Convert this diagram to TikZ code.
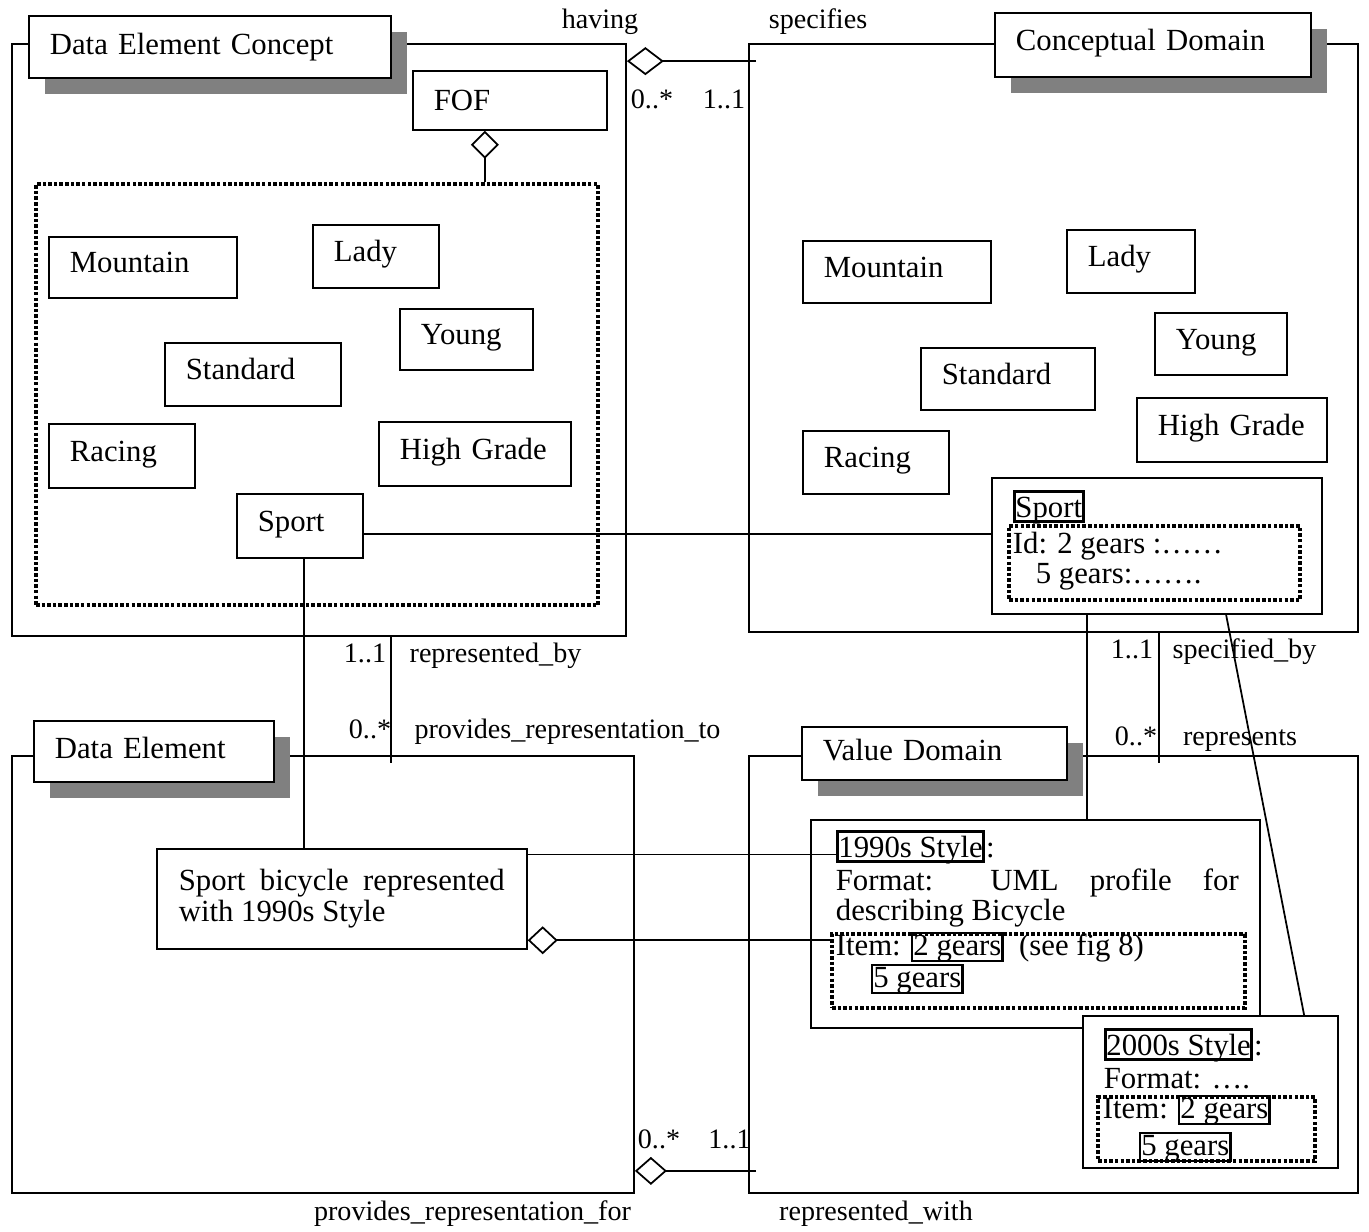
\documentclass[tikz,border=0pt]{standalone}
\usepackage{fontspec}
\setmainfont{Liberation Serif}
\usetikzlibrary{arrows.meta, shadows, fit}

\hyphenpenalty=10000
\exhyphenpenalty=10000
\newcommand\boxfont{\fontsize{17.5}{17.6}\selectfont}
\newcommand\labfont{\fontsize{16}{17}\selectfont}
\newcommand\gb[1]{{\setlength\fboxsep{0pt}\setlength\fboxrule{1.4pt}\fbox{\rule[-0.15em]{0pt}{0.83em}\smash{#1}}}}

\begin{document}
\begin{tikzpicture}[x=0.02cm, y=-0.02cm, line width=1pt, font=\boxfont,
  pkg/.style={draw, inner sep=0pt},
  frame/.style={draw, fill=white, inner sep=0pt},
  grp/.style={draw, line width=2pt, dash pattern=on 2pt off 1.2pt, inner sep=0pt},
  box/.style={draw, fill=white, anchor=north west, align=left, inner xsep=0.42cm, inner ysep=0pt},
  cls/.style={box, text height=12.2pt, text depth=6pt},
  tab/.style={cls, text depth=4pt, drop shadow={shadow xshift=0.32cm, shadow yshift=-0.32cm, fill=gray, opacity=1}},
  tag/.style={draw, line width=1.6pt, inner sep=0.6pt, text height=14pt, text depth=2.1pt, anchor=base west},
  txt/.style={inner sep=0pt, anchor=base west},
  lab/.style={font=\labfont, inner sep=0pt, anchor=base},
  aggr/.style={-{Diamond[open, length=#1, width=0.56cm]}}, aggr/.default=0.6cm]
  \useasboundingbox (0,0) rectangle (1369,1231);

  % パッケージ枠
  \node[pkg, fit={(12,44) (626,636)}] (decPkg) {};
  \node[pkg, fit={(749,44) (1358,632)}] (cdPkg) {};
  \node[pkg, fit={(12,756) (634,1193)}] (dePkg) {};
  \node[pkg, fit={(749,756) (1358,1193)}] (vdPkg) {};

  % タブ
  \node[tab, text width=6.4cm, minimum height=1.24cm] (decTab) at (28,15) {Data Element Concept};
  \node[tab, text width=5.48cm, minimum height=1.28cm, text depth=6pt] (cdTab) at (994,12) {Conceptual Domain};
  \node[tab, text width=3.96cm, minimum height=1.22cm] (deTab) at (33,720) {Data Element};
  \node[tab, text width=4.46cm, minimum height=1.06cm] (vdTab) at (801,726) {Value Domain};

  % Data Element Concept の中身
  \node[cls, text width=3.04cm, minimum height=1.18cm, text depth=1pt] (fof) at (412,70) {FOF};
  \node[grp, fit={(36,184) (598,605)}] (decSet) {};
  \node[cls, text width=2.92cm, minimum height=1.22cm] (mtnL) at (48,236) {Mountain};
  \node[cls, text width=1.68cm, minimum height=1.26cm] (ladyL) at (312,224) {Lady};
  \node[cls, text width=1.82cm, minimum height=1.22cm] (youngL) at (399,308) {Young};
  \node[cls, text width=2.68cm, minimum height=1.26cm] (stdL) at (164,342) {Standard};
  \node[cls, text width=2.08cm, minimum height=1.28cm] (raceL) at (48,423) {Racing};
  \node[cls, text width=3.0cm, minimum height=1.28cm] (highL) at (378,421) {High Grade};
  \node[cls, text width=1.68cm, minimum height=1.28cm] (sportL) at (236,493) {Sport};

  % Conceptual Domain の中身
  \node[cls, text width=2.92cm, minimum height=1.24cm] (mtnR) at (802,240) {Mountain};
  \node[cls, text width=1.72cm, minimum height=1.26cm] (ladyR) at (1066,229) {Lady};
  \node[cls, text width=1.8cm, minimum height=1.24cm] (youngR) at (1154,312) {Young};
  \node[cls, text width=2.64cm, minimum height=1.24cm] (stdR) at (920,347) {Standard};
  \node[cls, text width=2.08cm, minimum height=1.26cm] (raceR) at (802,430) {Racing};
  \node[cls, text width=2.96cm, minimum height=1.28cm] (highR) at (1136,397) {High Grade};
  \node[frame, fit={(992,478) (1322,614)}] (sportR) {};
  \node[tag] (sportRtag) at (1013,517) {Sport};
  \node[grp, fit={(1009,526) (1300,600)}] (sportRid) {};
  \node[txt] (idA) at (1012,553) {Id: 2 gears :……};
  \node[txt] (idB) at (1035,583) {5 gears:…….};

  % Data Element の中身
  \node[box, align=justify, text width=6.52cm, inner xsep=0.44cm, minimum height=2cm] (bike) at (156,848) {Sport bicycle represented with 1990s Style};

  % Value Domain の中身
  \node[frame, fit={(811,820) (1260,1028)}] (s90) {};
  \node[tag] (s90tag) at (836,857) {1990s Style};
  \node[txt] (s90col) at (s90tag.base east) {:};
  \node[txt, text width=8.06cm, align=justify] (fmt90) at (835,890) {Format: UML profile for describing Bicycle};
  \node[grp, fit={(832,934) (1245,1008)}] (item90) {};
  \node[txt] (item90a) at (835,955) {Item: \gb{2 gears}\ \ (see fig 8)};
  \node[txt] (item90b) at (870,987) {\gb{5 gears}};

  \node[frame, fit={(1083,1016) (1338,1168)}] (s00) {};
  \node[tag] (s00tag) at (1104,1055) {2000s Style};
  \node[txt] (s00col) at (s00tag.base east) {:};
  \node[txt] (fmt00) at (1103,1088) {Format: ….};
  \node[grp, fit={(1098,1097) (1315,1161)}] (item00) {};
  \node[txt] (item00a) at (1102,1118) {Item: \gb{2 gears}};
  \node[txt] (item00b) at (1138,1155) {\gb{5 gears}};

  % 接続線
  \draw[aggr=0.74cm] ([shift={(8,18)}]cdPkg.north west) -- ([shift={(0,18)}]decPkg.north east);
  \coordinate (fofAgg) at ([shift={(-25,0)}]fof.south);
  \draw[aggr=0.56cm] (decSet.north -| fofAgg) -- (fofAgg);
  \coordinate (sportLink) at ([shift={(0,8)}]sportL.east);
  \draw (sportLink) -- (sportLink -| sportR.west);
  \draw ([shift={(380,0)}]decPkg.south west) -- ([shift={(380,8)}]dePkg.north west);
  \draw ([shift={(411,0)}]cdPkg.south west) -- ([shift={(411,8)}]vdPkg.north west);
  \coordinate (bikeTop) at ([shift={(4,0)}]sportL.south);
  \draw (bikeTop) -- (bikeTop |- bike.north);
  \coordinate (cdLink) at ([shift={(96,0)}]sportR.south west);
  \draw (cdLink) -- (cdLink |- s90.north);
  \draw ([shift={(235,0)}]sportR.south west) -- ([shift={(222,0)}]s00.north west);
  \coordinate (styleLink) at ([shift={(0,8)}]s90tag.west);
  \draw (styleLink) -- (styleLink -| bike.east);
  \coordinate (itemLink) at ([shift={(0,8)}]item90.north west);
  \draw[aggr] (itemLink) -- (itemLink -| bike.east);
  \draw[aggr=0.64cm] ([shift={(8,-23)}]vdPkg.south west) -- ([shift={(0,-23)}]dePkg.south east);

  % ラベル
  \node[lab] (lblHaving) at (600,28) {having};
  \node[lab] (lblSpecifies) at (818,28) {specifies};
  \node[lab] (mulTopL) at (652,108) {0..*};
  \node[lab] (mulTopR) at (724,108) {1..1};
  \node[lab] (mulRepBy) at (365,662) {1..1};
  \node[lab] (lblRepBy) at (495.5,662) {represented\_by};
  \node[lab] (mulRepTo) at (370,738) {0..*};
  \node[lab] (lblRepTo) at (567.5,738) {provides\_representation\_to};
  \node[lab] (mulSpecBy) at (1132,658) {1..1};
  \node[lab] (lblSpecBy) at (1244.5,658) {specified\_by};
  \node[lab] (mulRepr) at (1136,745) {0..*};
  \node[lab] (lblRepr) at (1240,745) {represents};
  \node[lab] (mulBotL) at (659,1148) {0..*};
  \node[lab] (mulBotR) at (729.5,1148) {1..1};
  \node[lab] (lblRepFor) at (472.5,1220) {provides\_representation\_for};
  \node[lab] (lblRepWith) at (876,1220) {represented\_with};
\end{tikzpicture}
\end{document}
